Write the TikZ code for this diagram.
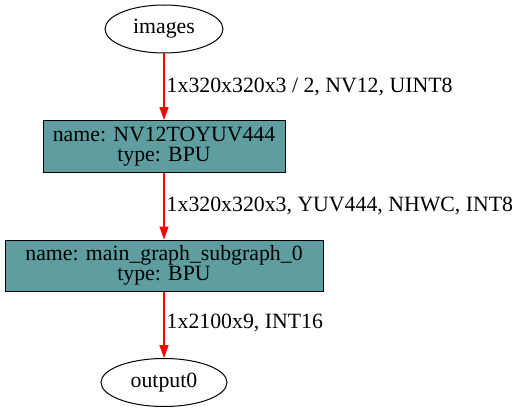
\documentclass[tikz,border=0pt]{standalone}
\usepackage{fontspec}
\setmainfont{Liberation Serif}
\usetikzlibrary{arrows.meta,shapes.geometric}
\definecolor{cadet}{HTML}{5F9EA0}
\definecolor{edgered}{HTML}{FF0000}
\begin{document}
\begin{tikzpicture}[x=1pt,y=-1pt,
  every node/.style={font=\fontsize{21.8}{20}\selectfont},
  ell/.style={draw, ellipse, inner sep=0pt, line width=1pt},
  opbox/.style={draw, fill=cadet, inner sep=0pt, align=center, line width=1pt},
  conn/.style={draw=edgered, line width=1.4pt, -{Triangle[length=13pt,width=9pt,fill=edgered]}},
  elabel/.style={anchor=west, inner sep=0pt, text=black}]
\useasboundingbox (0,0) rectangle (525,412);
\node[ell, minimum width=118pt, minimum height=48pt] (images) at (164,29) {images};
\node[opbox, minimum width=242pt, minimum height=52pt] (n1) at (164,146.5) {name: NV12TOYUV444\\type: BPU};
\node[opbox, minimum width=318pt, minimum height=51pt] (n2) at (164,265.5) {name: main\_graph\_subgraph\_0\\type: BPU};
\node[ell, minimum width=126pt, minimum height=48pt] (out) at (164,382.5) {output0};
\draw[conn] (images) -- (n1) node[pos=0.5, elabel, xshift=2pt] (l1) {1x320x320x3 / 2, NV12, UINT8};
\draw[conn] (n1) -- (n2) node[pos=0.5, elabel, xshift=2pt] (l2) {1x320x320x3, YUV444, NHWC, INT8};
\draw[conn] (n2) -- (out) node[pos=0.48, elabel, xshift=2pt] (l3) {1x2100x9, INT16};
\end{tikzpicture}
\end{document}
